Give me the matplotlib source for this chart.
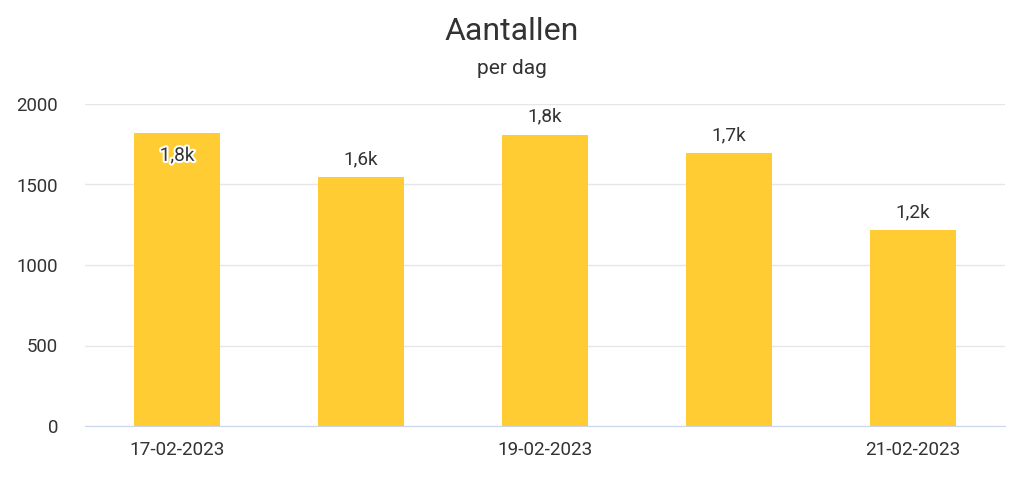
import matplotlib
matplotlib.use("Agg")
import matplotlib.pyplot as plt
import matplotlib.patheffects as pe

categories = ["17-02-2023", "18-02-2023", "19-02-2023", "20-02-2023", "21-02-2023"]
values = [1820, 1545, 1808, 1695, 1217]
labels = ["1,8k", "1,6k", "1,8k", "1,7k", "1,2k"]
inside = [True, False, False, False, False]
yticks = [0, 500, 1000, 1500, 2000]

plt.rcParams['font.family'] = ['Roboto', 'DejaVu Sans']
text_c = "#333333"

fig = plt.figure(figsize=(10.24, 4.86), dpi=100)
ax = fig.add_axes([85/1024, 1-426/486, 920/1024, 322/486])
x = list(range(len(categories)))
ax.bar(x, values, width=0.47, color="#FFCC33", zorder=3)
ax.set_xlim(-0.5, len(categories)-0.5)
ax.set_ylim(0, 2000)
ax.set_yticks(yticks)
ax.set_yticklabels([str(v) for v in yticks], fontsize=13.4, color=text_c)
ax.yaxis.grid(True, color="#e6e6e6", linewidth=1, zorder=0)
ax.tick_params(axis='y', length=0, pad=19.5)
ax.set_xticks(x[::2])
ax.set_xticklabels(categories[::2], fontsize=13.6, color=text_c)
ax.tick_params(axis='x', length=0, pad=11)
for s in ["top", "right", "left"]:
    ax.spines[s].set_visible(False)
ax.spines["bottom"].set_color("#ccd6eb")
ax.spines["bottom"].set_zorder(4)

for xi, v, lab, ins in zip(x, values, labels, inside):
    if ins:
        t = ax.annotate(lab, (xi, v), xytext=(0, -16.5), textcoords="offset points",
                        ha="center", va="center", fontsize=13.7, color=text_c, zorder=5)
        t.set_path_effects([pe.withStroke(linewidth=3, foreground="white")])
    else:
        ax.annotate(lab, (xi, v), xytext=(0, 13), textcoords="offset points",
                    ha="center", va="center", fontsize=13.7, color=text_c, zorder=5)

fig.text(0.5, 1-31/486, "Aantallen", ha="center", va="center", fontsize=23, color=text_c)
fig.text(0.5, 1-68/486, "per dag", ha="center", va="center", fontsize=15, color=text_c)

fig.savefig("out.png", dpi=100, facecolor="white")
